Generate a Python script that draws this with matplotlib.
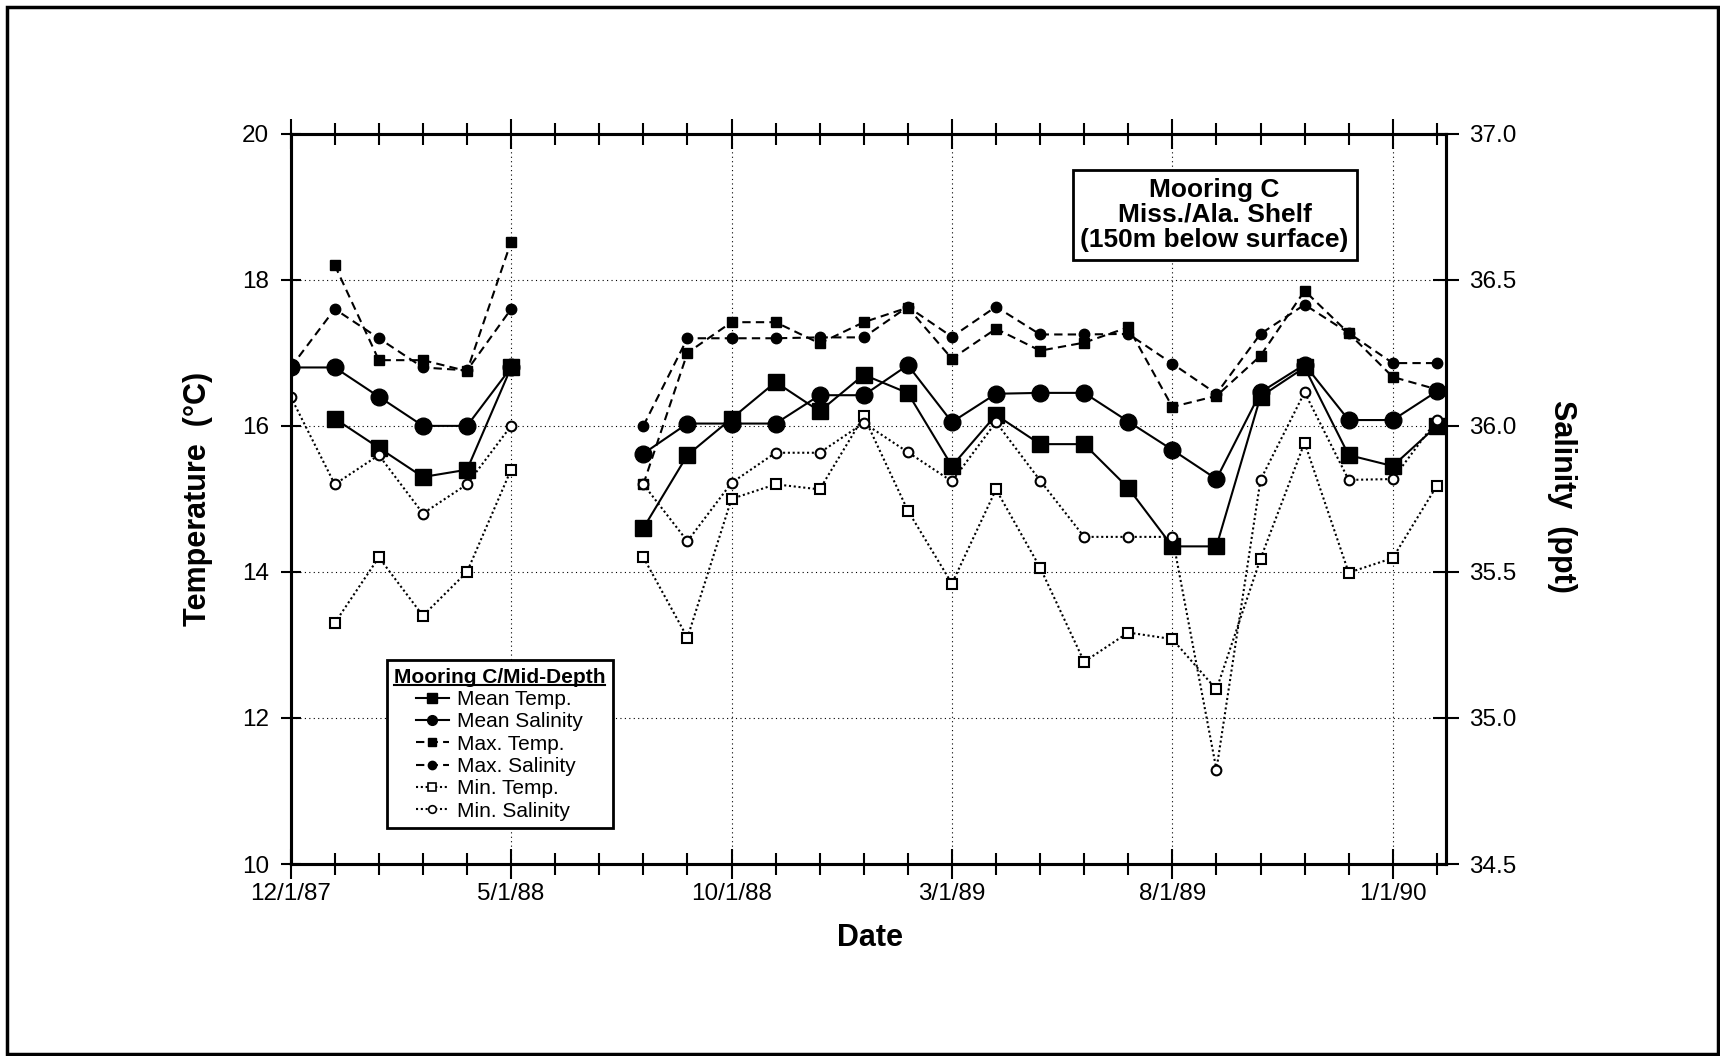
import numpy as np
import matplotlib
matplotlib.use('Agg')
import matplotlib.pyplot as plt
from matplotlib.lines import Line2D
from matplotlib.patches import Rectangle

plt.rcParams['font.family'] = ['Liberation Sans', 'DejaVu Sans']

# month index: 0 = 12/1/87 ... 26 = 2/1/90 (no data for 6/88 and 7/88)
months = np.arange(27)
tick_months = [0, 5, 10, 15, 20, 25]
tick_labels = ['12/1/87', '5/1/88', '10/1/88', '3/1/89', '8/1/89', '1/1/90']
temp_ticks = [10, 12, 14, 16, 18, 20]
sal_ticks = [34.5, 35.0, 35.5, 36.0, 36.5, 37.0]

nan = np.nan
# temperature (deg C)
mean_temp = [nan, 16.1, 15.7, 15.3, 15.4, 16.8, nan, nan,
             14.6, 15.6, 16.1, 16.6, 16.2, 16.7, 16.45, 15.45, 16.15,
             15.75, 15.75, 15.15, 14.35, 14.35, 16.4, 16.8, 15.6, 15.45, 16.0]
max_temp = [nan, 18.2, 16.9, 16.9, 16.75, 18.52, nan, nan,
            15.2, 17.0, 17.42, 17.42, 17.13, 17.42, 17.62, 16.92, 17.33,
            17.03, 17.14, 17.35, 16.26, 16.41, 16.96, 17.85, 17.27, 16.67, 16.5]
min_temp = [nan, 13.3, 14.2, 13.4, 14.0, 15.4, nan, nan,
            14.2, 13.1, 15.0, 15.2, 15.13, 16.13, 14.84, 13.84, 15.13,
            14.06, 12.77, 13.17, 13.08, 12.39, 14.18, 15.77, 13.99, 14.19, 15.18]
# salinity (ppt)
mean_sal = [36.20, 36.20, 36.10, 36.00, 36.00, 36.20, nan, nan,
            35.905, 36.008, 36.008, 36.008, 36.105, 36.105, 36.208, 36.013, 36.11,
            36.113, 36.113, 36.015, 35.918, 35.818, 36.115, 36.21, 36.02, 36.02, 36.118]
max_sal = [36.20, 36.40, 36.30, 36.20, 36.19, 36.40, nan, nan,
           36.00, 36.30, 36.30, 36.30, 36.303, 36.303, 36.408, 36.305, 36.408,
           36.313, 36.313, 36.315, 36.213, 36.11, 36.315, 36.415, 36.318, 36.215, 36.215]
min_sal = [36.10, 35.80, 35.90, 35.70, 35.80, 36.00, nan, nan,
           35.80, 35.605, 35.805, 35.908, 35.908, 36.01, 35.91, 35.81, 36.013,
           35.813, 35.62, 35.62, 35.62, 34.823, 35.815, 36.115, 35.815, 35.818, 36.02]

fig = plt.figure(figsize=(17.2, 10.56), dpi=100)
ax = fig.add_axes([0.169, 0.1818, 0.6715, 0.6915])
ax2 = ax.twinx()

solid = dict(color='black', lw=1.5, ls='-')
dashed = dict(color='black', lw=1.5, dashes=(4, 2.5))
dotted = dict(color='black', lw=1.5, dashes=(1, 1.3))

# max series
ax.plot(months, max_temp, marker='s', ms=7, mfc='black', mec='black', **dashed)
ax2.plot(months, max_sal, marker='o', ms=7.5, mfc='black', mec='black', **dashed)
# mean series
ax2.plot(months, mean_sal, marker='o', ms=12, mfc='black', mec='black', **solid)
ax.plot(months, mean_temp, marker='s', ms=11.5, mfc='black', mec='black', **solid)
# min series
ax.plot(months, min_temp, marker='s', ms=7.5, mfc='white', mec='black', mew=1.5, **dotted)
ax2.plot(months, min_sal, marker='o', ms=7, mfc='white', mec='black', mew=1.5, **dotted)

ax.set_xlim(0, 26.2)
ax.set_ylim(10, 20)
ax2.set_ylim(34.5, 37.0)

ax.set_xticks(tick_months)
ax.set_xticklabels(tick_labels)
ax.set_xticks(months, minor=True)
ax.set_yticks(temp_ticks)
ax2.set_yticks(sal_ticks)
ax2.set_yticklabels([f'{v:.1f}' for v in sal_ticks])

ax.tick_params(axis='x', which='major', direction='inout', length=22, width=1.5,
               top=True, labelsize=17.5, pad=3)
ax.tick_params(axis='x', which='minor', direction='inout', length=16, width=1.5, top=True)
ax.tick_params(axis='y', direction='inout', length=15, width=1.5, labelsize=17.5, pad=8)
ax2.tick_params(axis='y', direction='inout', length=19, width=1.5, labelsize=17.5, pad=7)

for a in (ax, ax2):
    for s in a.spines.values():
        s.set_linewidth(2.2)

ax.grid(True, which='major', color='black', lw=0.8, dashes=(1, 3))

fig.text(0.1154, 0.5275, 'Temperature  (°C)', rotation=90, ha='center', va='center',
         fontsize=22, fontweight='bold')
fig.text(0.908, 0.530, 'Salinity  (ppt)', rotation=270, ha='center', va='center',
         fontsize=22, fontweight='bold')
fig.text(0.506, 0.112, 'Date', ha='center', va='center', fontsize=22, fontweight='bold')

ax2.text(0.800, 0.889, 'Mooring C\nMiss./Ala. Shelf\n(150m below surface)',
         transform=ax2.transAxes, ha='center', va='center', fontsize=19,
         fontweight='bold', linespacing=1.05, zorder=10,
         bbox=dict(boxstyle='square,pad=0.3', fc='white', ec='black', lw=2))

handles = [
    Line2D([], [], marker='s', ms=7, mfc='black', mec='black', **solid),
    Line2D([], [], marker='o', ms=7, mfc='black', mec='black', **solid),
    Line2D([], [], marker='s', ms=6, mfc='black', mec='black', **dashed),
    Line2D([], [], marker='o', ms=6, mfc='black', mec='black', **dashed),
    Line2D([], [], marker='s', ms=6, mfc='white', mec='black', mew=1.2, **dotted),
    Line2D([], [], marker='o', ms=5.5, mfc='white', mec='black', mew=1.2, **dotted),
]
labels = ['Mean Temp.', 'Mean Salinity', 'Max. Temp.', 'Max. Salinity', 'Min. Temp.', 'Min. Salinity']
leg = ax2.legend(handles, labels, loc='upper left', bbox_to_anchor=(0.083, 0.279),
                 fontsize=15, title='Mooring C/Mid-Depth',
                 title_fontproperties={'weight': 'bold', 'size': 15},
                 fancybox=False, framealpha=1, borderpad=0.35, labelspacing=0.16,
                 handlelength=1.6, handletextpad=0.4, borderaxespad=0)
leg.get_frame().set_edgecolor('black')
leg.get_frame().set_linewidth(2)

# underline the legend title
fig.canvas.draw()
bb = leg.get_title().get_window_extent().transformed(fig.transFigure.inverted())
uy = bb.y0 + 0.1 * bb.height
fig.add_artist(Line2D([bb.x0, bb.x1], [uy, uy], color='black', lw=1.5,
                      transform=fig.transFigure, zorder=10))

# page frame
fig.add_artist(Rectangle((0.004, 0.002), 0.995, 0.991, transform=fig.transFigure,
                         fill=False, ec='black', lw=2.5))

fig.savefig('out.png', dpi=100)
